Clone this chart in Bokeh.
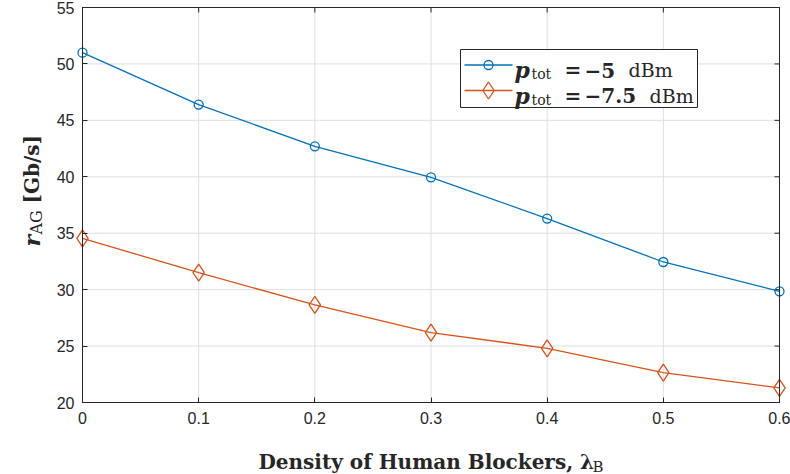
import math
from bokeh.plotting import figure
from bokeh.models import Range1d, FixedTicker, Label, BoxAnnotation
from bokeh.embed import file_html
from bokeh.resources import INLINE

# ---------------- data ----------------
density = [0.0, 0.1, 0.2, 0.3, 0.4, 0.5, 0.6]
rate_p5 = [51.0, 46.4, 42.7, 39.95, 36.3, 32.45, 29.85]
rate_p75 = [34.55, 31.5, 28.65, 26.2, 24.8, 22.65, 21.3]
x_ticks = [0.0, 0.1, 0.2, 0.3, 0.4, 0.5, 0.6]
x_tick_labels = ["0", "0.1", "0.2", "0.3", "0.4", "0.5", "0.6"]
y_ticks = [20, 25, 30, 35, 40, 45, 50, 55]
y_tick_labels = ["20", "25", "30", "35", "40", "45", "50", "55"]
series_values = ["\u22125", "\u22127.5"]

BLUE = "#0072BD"
ORANGE = "#D95319"
AX = "#262626"

# ---------------- layout ----------------
W, H = 790, 474
FL, FR, FT, FB = 82, 779, 7, 402     # pixel box of the axes area
X0, X1 = 0.0, 0.6
Y0, Y1 = 20.0, 55.0


def dx(px):
    return X0 + (px - FL) / (FR - FL) * (X1 - X0)


def dy(py):
    return Y0 + (FB - py) / (FB - FT) * (Y1 - Y0)


p = figure(width=W, height=H, x_range=Range1d(dx(0), dx(W)), y_range=Range1d(dy(H), dy(0)),
           output_backend="svg", toolbar_location=None,
           min_border=0, min_border_left=0, min_border_right=0,
           min_border_top=0, min_border_bottom=0)
p.background_fill_color = "white"
p.border_fill_color = "white"
p.outline_line_color = None
p.xgrid.visible = False
p.ygrid.visible = False

# grid lines restricted to the axes box
p.segment(x0=x_ticks, y0=[Y0] * len(x_ticks), x1=x_ticks, y1=[Y1] * len(x_ticks),
          line_color="#dfdfdf", line_width=1, level="underlay")
p.segment(x0=[X0] * len(y_ticks), y0=y_ticks, x1=[X1] * len(y_ticks), y1=y_ticks,
          line_color="#dfdfdf", line_width=1, level="underlay")

xa, ya = p.xaxis[0], p.yaxis[0]
xa.fixed_location = Y0
xa.bounds = (X0, X1)
ya.fixed_location = X0
ya.bounds = (Y0, Y1)
for ax, ticks, labels in ((xa, x_ticks, x_tick_labels), (ya, y_ticks, y_tick_labels)):
    ax.ticker = FixedTicker(ticks=ticks)
    ax.major_label_overrides = {t: l for t, l in zip(ticks, labels)}
    ax.major_tick_in = 5
    ax.major_tick_out = 0
    ax.minor_tick_line_color = None
    ax.axis_line_color = AX
    ax.major_tick_line_color = AX
    ax.major_label_text_font = "Liberation Sans"
    ax.major_label_text_font_size = "16px"
    ax.major_label_text_color = AX
xa.major_label_standoff = 9
ya.major_label_standoff = 8

# box around the axes (top and right edges) with mirrored ticks
p.add_layout(BoxAnnotation(left=X0, right=X1, bottom=Y0, top=Y1, fill_color=None,
                           line_color=AX, line_width=1, line_alpha=1, level="guide"))
tick_len_y = 5 / (FB - FT) * (Y1 - Y0)
tick_len_x = 5 / (FR - FL) * (X1 - X0)
p.segment(x0=x_ticks, y0=[Y1] * len(x_ticks), x1=x_ticks, y1=[Y1 - tick_len_y] * len(x_ticks),
          line_color=AX, line_width=1)
p.segment(x0=[X1] * len(y_ticks), y0=y_ticks, x1=[X1 - tick_len_x] * len(y_ticks), y1=y_ticks,
          line_color=AX, line_width=1)

# ---------------- series ----------------
p.line(density, rate_p5, line_color=BLUE, line_width=1.3)
p.scatter(density, rate_p5, marker="circle", size=9, fill_color=None,
          line_color=BLUE, line_width=1.3)
p.line(density, rate_p75, line_color=ORANGE, line_width=1.3)
p.scatter(density, rate_p75, marker="diamond", size=17, fill_color=None,
          line_color=ORANGE, line_width=1.3)

SERIF = "DejaVu Serif"


def lab(px, py, text, size, style="normal", align="left", angle=0.0, color=AX):
    p.add_layout(Label(x=px, y=py, x_units="canvas", y_units="canvas",
                       text=text, text_font=SERIF,
                       text_font_size=f"{size}px", text_font_style=style,
                       text_align=align, text_baseline="alphabetic",
                       text_color=color, angle=angle, level="overlay"))


# ---------------- legend (manual, rich text) ----------------
p.add_layout(BoxAnnotation(left=dx(460), right=dx(697), top=dy(49), bottom=dy(107),
                           fill_color="white", fill_alpha=1, line_color=AX,
                           line_width=1, line_alpha=1, level="annotation"))
rows = [(64.5, BLUE, "circle", 9, 628), (90, ORANGE, "diamond", 17, 649)]
for (cy, col, mk, sz, dbm_x), val in zip(rows, series_values):
    p.line([dx(464), dx(512)], [dy(cy), dy(cy)], line_color=col, line_width=1.3, level="overlay")
    p.scatter([dx(488)], [dy(cy)], marker=mk, size=sz, fill_color=None,
              line_color=col, line_width=1.3, level="overlay")
    base = cy + 5
    lab(514, base, "p", 22, "bold italic")
    lab(531, base + 4, "tot", 14)
    lab(564, base, "=", 20, "bold")
    lab(584, base, val, 20, "bold")
    lab(dbm_x, base, "dBm", 19)

# ---------------- axis titles ----------------
lab(258, 461, "Density of Human Blockers, \u03bb", 20, "bold")
lab(592, 466, "B", 15)

ang = math.pi / 2
lab(31, 246, "r", 22, "bold italic", angle=ang)
lab(36, 234, "AG", 16, angle=ang)
lab(31, 203, "[Gb/s]", 20, "bold", angle=ang)

open("out.html", "w").write(file_html(p, INLINE))
